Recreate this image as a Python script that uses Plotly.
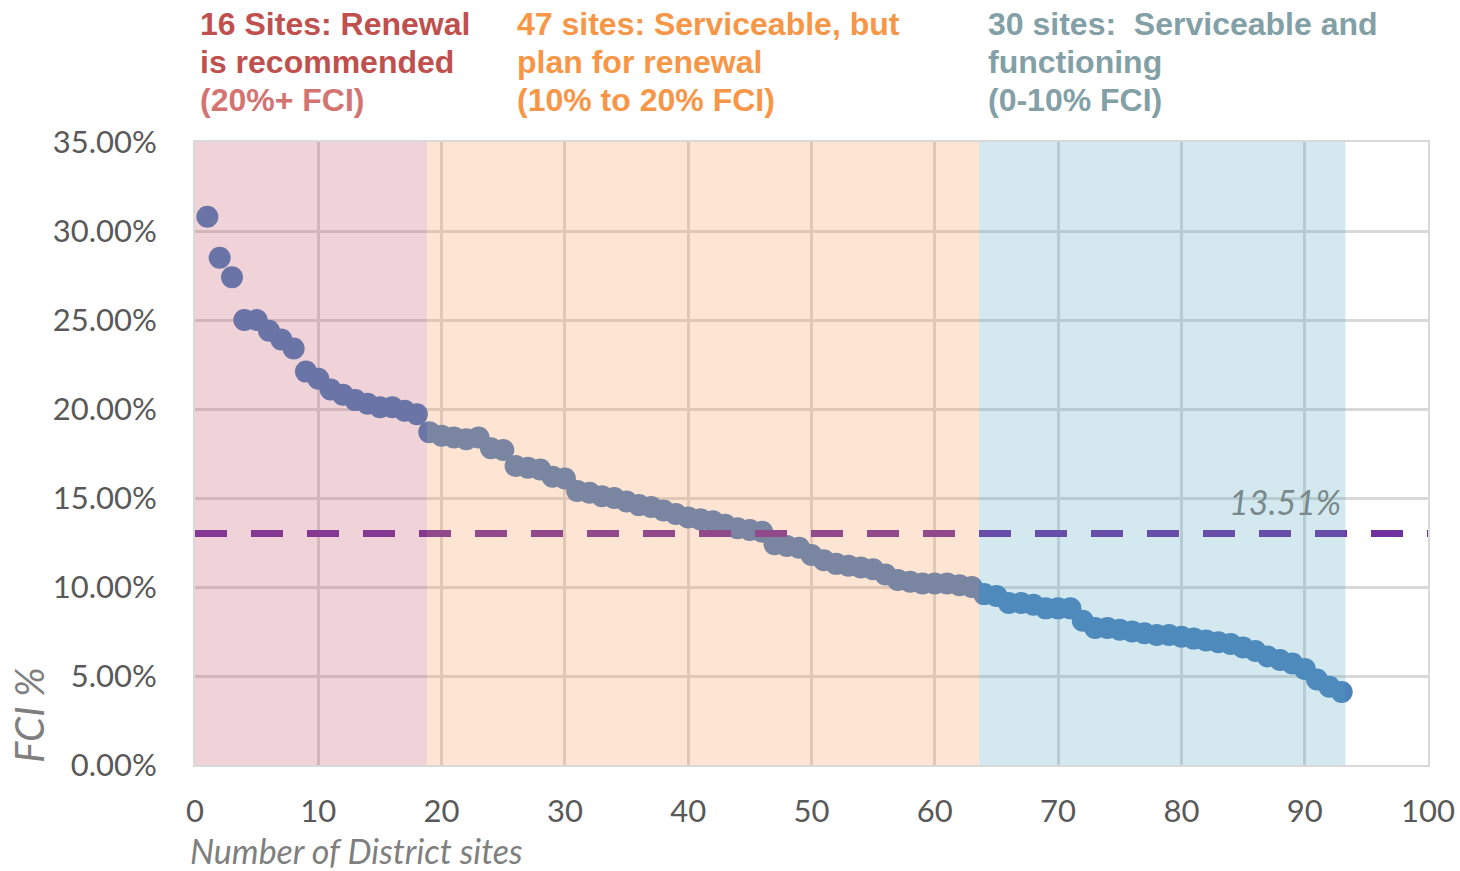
import plotly.graph_objects as go

# ---- data ----
site_index = list(range(1, 94))
fci_pct = [
    30.8, 28.5, 27.4, 25.0, 25.0, 24.4, 23.9, 23.4, 22.1, 21.7,
    21.1, 20.8, 20.5, 20.3, 20.1, 20.1, 19.9, 19.7, 18.7, 18.5,
    18.4, 18.3, 18.4, 17.8, 17.7, 16.8, 16.7, 16.6, 16.2, 16.1,
    15.4, 15.3, 15.1, 15.0, 14.8, 14.6, 14.5, 14.3, 14.1, 13.9,
    13.8, 13.7, 13.5, 13.3, 13.2, 13.1, 12.4, 12.3, 12.2, 11.8,
    11.5, 11.3, 11.2, 11.1, 11.0, 10.7, 10.4, 10.3, 10.2, 10.2,
    10.2, 10.1, 10.0, 9.6, 9.5, 9.1, 9.1, 9.0, 8.8, 8.8,
    8.8, 8.1, 7.7, 7.7, 7.6, 7.5, 7.4, 7.3, 7.3, 7.2,
    7.1, 7.0, 6.9, 6.8, 6.6, 6.4, 6.1, 5.9, 5.7, 5.4,
    4.8, 4.4, 4.1,
]
mean_line_x = [0, 100]
mean_line_y = [13.0, 13.0]
mean_label = "13.51%"

band_bounds = [0, 18.8, 63.6, 93.3]
band_colors = ["rgba(192,80,100,0.25)", "rgba(247,147,79,0.25)", "rgba(79,167,191,0.25)"]

header_lines = [
    [("16 Sites: Renewal", "#c0504d"), ("is recommended", "#c0504d"), ("(20%+ FCI)", "#d47472")],
    [("47 sites: Serviceable, but", "#f79646"), ("plan for renewal", "#f79646"), ("(10% to 20% FCI)", "#f79646")],
    [("30 sites:&nbsp; Serviceable and", "#82a0a6"), ("functioning", "#82a0a6"), ("(0-10% FCI)", "#82a0a6")],
]

# ---- layout geometry ----
W, H = 1460, 871
L, R, T, B = 195, 32, 142, 106
pw, ph = W - L - R, H - T - B


def px_x(px):
    return (px - L) / pw


def px_y(py):
    return (H - B - py) / ph


fig = go.Figure()

fig.add_trace(go.Scatter(
    x=site_index, y=fci_pct, mode="markers",
    marker=dict(size=22, color="#4f81bd", line=dict(width=0)),
    showlegend=False, hoverinfo="x+y",
))

fig.add_trace(go.Scatter(
    x=mean_line_x, y=mean_line_y, mode="lines",
    line=dict(color="#7030a0", width=7, dash="32px,24px"),
    showlegend=False, hoverinfo="skip", cliponaxis=False,
))

shapes = []
for i, c in enumerate(band_colors):
    shapes.append(dict(type="rect", xref="x", yref="y",
                       x0=band_bounds[i], x1=band_bounds[i + 1], y0=0, y1=35,
                       fillcolor=c, line=dict(width=0), layer="above"))

annotations = []
header_x = [198, 515, 986]
line_y = [24, 62, 100]
for hx, lines in zip(header_x, header_lines):
    for ly, (txt, col) in zip(line_y, lines):
        annotations.append(dict(
            xref="paper", yref="paper", x=px_x(hx), y=px_y(ly),
            xanchor="left", yanchor="middle", align="left", showarrow=False,
            text="<b>" + txt + "</b>",
            font=dict(family="Liberation Sans, Arial", size=32, color=col),
        ))

annotations.append(dict(
    xref="paper", yref="paper", x=px_x(1285), y=px_y(502),
    xanchor="center", yanchor="middle", showarrow=False,
    text="<i>" + mean_label + "</i>",
    font=dict(family="Lato", size=34, color="#7a8a8c"),
))

annotations.append(dict(
    xref="paper", yref="paper", x=px_x(188), y=px_y(850),
    xanchor="left", yanchor="middle", showarrow=False,
    text="<i>Number of District sites</i>",
    font=dict(family="Lato", size=34, color="#7f7f7f"),
))

annotations.append(dict(
    xref="paper", yref="paper", x=px_x(29), y=px_y(715),
    xanchor="center", yanchor="middle", showarrow=False, textangle=-90,
    text="<i>FCI %</i>",
    font=dict(family="Lato", size=40, color="#7f7f7f"),
))

fig.update_layout(
    width=W, height=H,
    margin=dict(l=L, r=R, t=T, b=B, autoexpand=False),
    paper_bgcolor="white", plot_bgcolor="white",
    shapes=shapes, annotations=annotations,
    font=dict(family="Lato", color="#595959"),
)

fig.update_xaxes(
    range=[0, 100], dtick=10, tick0=0, automargin=False,
    showgrid=True, gridcolor="#d9d9d9", gridwidth=2.5,
    showline=True, linecolor="#d9d9d9", linewidth=2, mirror=True,
    zeroline=False, ticks="", ticklabelstandoff=18,
    tickfont=dict(family="Lato", size=31, color="#595959"),
)
fig.update_yaxes(
    range=[0, 35], dtick=5, tick0=0, automargin=False,
    tickformat=".2f", ticksuffix="%",
    showgrid=True, gridcolor="#d9d9d9", gridwidth=2.5,
    showline=True, linecolor="#d9d9d9", linewidth=2, mirror=True,
    zeroline=False, ticks="", ticklabelstandoff=30,
    tickfont=dict(family="Lato", size=31, color="#595959"),
)

fig.write_html("out.html", config={"displayModeBar": False},
               post_script="document.body.style.margin='0';")
